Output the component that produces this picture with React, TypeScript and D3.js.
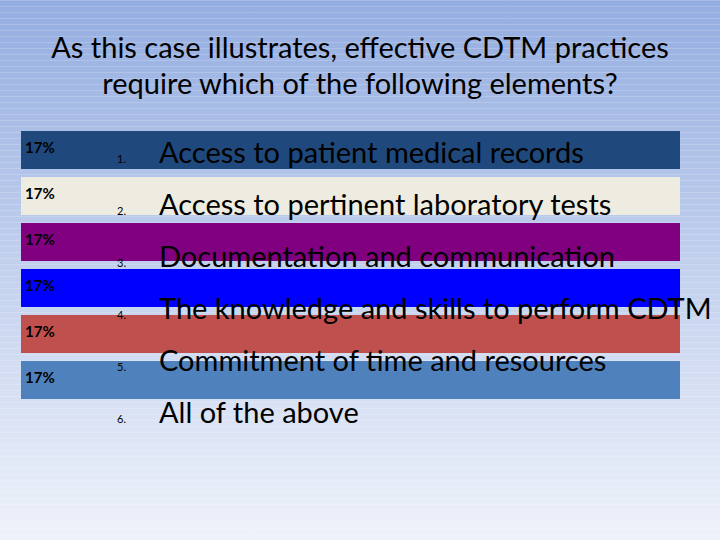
import React from "react";
import * as d3 from "d3";

const options = [
  "Access to patient medical records",
  "Access to pertinent laboratory tests",
  "Documentation and communication",
  "The knowledge and skills to perform CDTM",
  "Commitment of time and resources",
  "All of the above",
];
const barValues = [17, 17, 17, 17, 17, 17];
const barColors = ["#1f497d", "#eeece1", "#800080", "#0000ff", "#c0504d", "#4f81bd"];
const titleLines = [
  "As this case illustrates, effective CDTM practices",
  "require which of the following elements?",
];

export default function App() {
  const W = 720, H = 540;
  const barY = d3.scaleLinear().domain([0, 5]).range([131, 131 + 46 * 5]);
  const barH = 38;
  const barX = d3.scaleLinear().domain([0, 17]).range([21, 680]);
  const textY = d3.scaleLinear().domain([0, 5]).range([163, 423]);
  const stripes = d3.range(0, H, 6);
  return (
    <svg width={W} height={H} style={{ position: "absolute", left: 0, top: 0 }}>
      <defs>
        <linearGradient id="bg" x1="0" y1="0" x2="0" y2="1">
          <stop offset="0" stopColor="#94ade0" />
          <stop offset="0.5" stopColor="#c3d1ee" />
          <stop offset="1" stopColor="#eef2fa" />
        </linearGradient>
      </defs>
      <rect width={W} height={H} fill="url(#bg)" />
      {stripes.map((y) => (
        <line key={y} x1={0} x2={W} y1={y + 0.5} y2={y + 0.5} stroke="#ffffff" strokeOpacity={0.18} />
      ))}
      {titleLines.map((t, i) => (
        <text key={i} x={360} y={58 + i * 36} textAnchor="middle" fontFamily="Lato, 'Open Sans', sans-serif" fontSize={29} fill="#000">{t}</text>
      ))}
      {barValues.map((v, i) => (
        <g key={i}>
          <rect x={barX(0)} y={barY(i)} width={barX(v) - barX(0)} height={barH} fill={barColors[i]} />
          <text x={25} y={barY(i) + 22} fontFamily="Lato, sans-serif" fontWeight="bold" fontSize={15} fill="#000">{v}%</text>
        </g>
      ))}
      {options.map((o, i) => (
        <g key={i}>
          <text x={117} y={textY(i)} fontFamily="Lato, sans-serif" fontSize={11} fill="#000">{i + 1}.</text>
          <text x={159} y={textY(i)} fontFamily="Lato, 'Open Sans', sans-serif" fontSize={29} fill="#000">{o}</text>
        </g>
      ))}
    </svg>
  );
}
